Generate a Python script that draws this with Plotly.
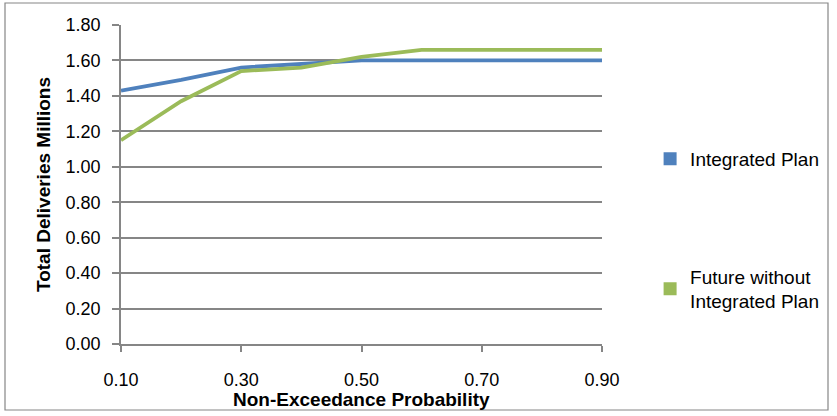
import plotly.graph_objects as go

# Non-exceedance probabilities and total deliveries (millions)
probability = [0.1, 0.2, 0.3, 0.4, 0.5, 0.6, 0.7, 0.8, 0.9]
integrated_plan = [1.43, 1.49, 1.56, 1.58, 1.60, 1.60, 1.60, 1.60, 1.60]
future_without = [1.15, 1.37, 1.54, 1.56, 1.62, 1.66, 1.66, 1.66, 1.66]

x_ticks = [0.1, 0.3, 0.5, 0.7, 0.9]
y_ticks = [0.0, 0.2, 0.4, 0.6, 0.8, 1.0, 1.2, 1.4, 1.6, 1.8]

BLUE = "#4F81BD"
GREEN = "#9BBB59"
GRID = "#868686"
FONT = "Liberation Sans, Arial, sans-serif"

fig = go.Figure()

# Data lines (legend handled by square-marker entries below)
fig.add_trace(go.Scatter(x=probability, y=integrated_plan, mode="lines",
                         line=dict(color=BLUE, width=3.8), showlegend=False))
fig.add_trace(go.Scatter(x=probability, y=future_without, mode="lines",
                         line=dict(color=GREEN, width=3.8), showlegend=False))

# Square legend keys
fig.add_trace(go.Scatter(x=[None], y=[None], mode="markers", name="Integrated Plan",
                         legendgroup="a",
                         marker=dict(symbol="square", size=13, color=BLUE)))
fig.add_trace(go.Scatter(x=[None], y=[None], mode="markers",
                         name="Future without<br>Integrated Plan", legendgroup="b",
                         marker=dict(symbol="square", size=13, color=GREEN)))

fig.update_layout(
    width=837, height=416,
    margin=dict(l=121, r=235, t=25, b=72),
    paper_bgcolor="white", plot_bgcolor="white",
    font=dict(family=FONT, size=18, color="#000000"),
    legend=dict(x=1.1, y=0.64, xanchor="left", yanchor="top",
                tracegroupgap=90, font=dict(size=19), itemwidth=30,
                bgcolor="rgba(0,0,0,0)"),
    xaxis=dict(
        range=[0.1, 0.9], tickvals=x_ticks, tickformat=".2f",
        showgrid=False, zeroline=False,
        showline=True, linecolor=GRID, linewidth=1.5,
        ticks="outside", ticklen=6, tickcolor=GRID, tickwidth=1.5,
        ticklabelstandoff=13,
    ),
    yaxis=dict(
        range=[0, 1.8], tickvals=y_ticks, tickformat=".2f",
        showgrid=True, gridcolor=GRID, gridwidth=1.5,
        zeroline=False,
        showline=True, linecolor=GRID, linewidth=1.5,
        ticks="outside", ticklen=7, tickcolor=GRID, tickwidth=1.5,
        ticklabelstandoff=8,
        title=dict(text="<b>Total Deliveries Millions</b>", standoff=10,
                   font=dict(family=FONT, size=19)),
    ),
    annotations=[dict(text="<b>Non-Exceedance Probability</b>",
                      xref="paper", yref="paper", x=0.5, y=(344 - 399) / 319,
                      xanchor="center", yanchor="middle", showarrow=False,
                      font=dict(family=FONT, size=19))],
    shapes=[dict(type="rect", xref="paper", yref="paper",
                 x0=(5 - 121) / 481, x1=(828 - 121) / 481,
                 y0=(344 - 410) / 319, y1=(344 - 3) / 319,
                 line=dict(color=GRID, width=1.2), fillcolor="rgba(0,0,0,0)",
                 layer="below")],
)

fig.write_html("out.html")
